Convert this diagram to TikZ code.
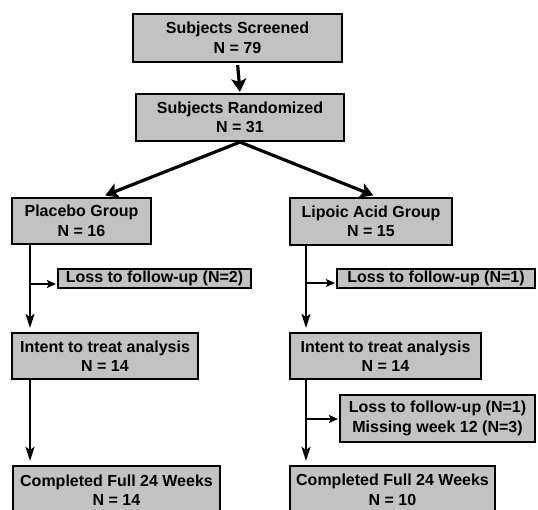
\documentclass[tikz,border=0pt]{standalone}
\usepackage{fontspec}
\setmainfont{Liberation Sans}
\usetikzlibrary{arrows.meta,calc}
\definecolor{boxgray}{RGB}{194,194,194}
\begin{document}
\begin{tikzpicture}[x=1pt,y=-1pt,
  box/.style={draw=black, fill=boxgray, line width=2.2pt, align=center,
    font=\fontsize{16pt}{19.5pt}\selectfont\bfseries, inner sep=0pt},
  thickarrow/.style={line width=3.2pt, -{Stealth[length=13pt,width=15pt,inset=3pt]}},
  thinarrow/.style={line width=1.8pt, -{Stealth[length=14pt,width=9pt,inset=3pt]}},
  brancharrow/.style={line width=1.8pt, -{Stealth[length=9pt,width=8pt,inset=2pt]}}]
\useasboundingbox (0,0) rectangle (538,510);
\clip (0,0) rectangle (538,510);
\node[box, minimum width=209pt, minimum height=48pt] (scr) at (237.5,38) {Subjects Screened\\N = 79};
\node[box, minimum width=208pt, minimum height=47pt] (rnd) at (240,117.5) {Subjects Randomized\\N = 31};
\node[box, minimum width=139pt, minimum height=46pt] (pla) at (81.5,221) {Placebo Group\\N = 16};
\node[box, minimum width=162pt, minimum height=47pt] (lip) at (371,221.5) {Lipoic Acid Group\\N = 15};
\node[box, minimum width=193pt, minimum height=19pt] (lossa) at (154.5,278.5) {Loss to follow-up (N=2)};
\node[box, minimum width=198pt, minimum height=19pt] (lossb) at (436,278.5) {Loss to follow-up (N=1)};
\node[box, minimum width=186pt, minimum height=46pt] (itl) at (105,356) {Intent to treat analysis\\N = 14};
\node[box, minimum width=191pt, minimum height=46pt] (itr) at (385.5,356) {Intent to treat analysis\\N = 14};
\node[box, minimum width=195pt, minimum height=47pt] (lossc) at (437.5,418.5) {Loss to follow-up (N=1)\\Missing week 12 (N=3)};
\node[box, minimum width=207pt, minimum height=48pt] (cl) at (116.5,490) {Completed Full 24 Weeks\\N = 14};
\node[box, minimum width=205pt, minimum height=48pt] (cr) at (392.5,490) {Completed Full 24 Weeks\\N = 10};
\coordinate (tl) at (30,0);
\coordinate (tr) at (306,0);
\coordinate (ba) at (30,284);
\coordinate (bb) at (306,283);
\coordinate (bc) at (306,419);
\draw[thickarrow, shorten <=2pt, shorten >=1pt] (scr.south) -- (rnd.north);
\draw[thickarrow, shorten >=4pt] (rnd.south) -- ([xshift=20pt]pla.north);
\draw[thickarrow, shorten >=4pt] (rnd.south) -- ([xshift=6pt]lip.north);
\draw[thinarrow, shorten >=4pt] (tl |- pla.south) -- (tl |- itl.north);
\draw[brancharrow, shorten >=1pt] (ba) -- (ba -| lossa.west);
\draw[thinarrow, shorten >=4pt] (tr |- lip.south) -- (tr |- itr.north);
\draw[brancharrow, shorten >=1pt] (bb) -- (bb -| lossb.west);
\draw[thinarrow, shorten >=4pt] (tl |- itl.south) -- (tl |- cl.north);
\draw[thinarrow, shorten >=4pt] (tr |- itr.south) -- (tr |- cr.north);
\draw[brancharrow, shorten >=1pt] (bc) -- (bc -| lossc.west);
\end{tikzpicture}
\end{document}
